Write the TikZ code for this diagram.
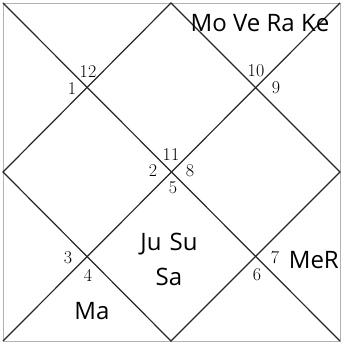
\documentclass[tikz,border=0pt]{standalone}
\usepackage{fontspec}
\newfontfamily\planetfont{Open Sans}
\usetikzlibrary{positioning}

\begin{document}
\begin{tikzpicture}[
    x=1pt, y=-1pt,
    line/.style={draw, line width=1.2pt, black!85},
    frame/.style={draw, line width=0.8pt, gray!60},
    house/.style={font=\fontsize{18}{18}\selectfont, inner sep=0pt},
    planet/.style={font=\planetfont\fontsize{24}{26}\selectfont, inner sep=0pt, align=center}
]
    \useasboundingbox (0,0) rectangle (341,344);
    % corners and midpoints of the chart
    \coordinate (tl) at (3,3);
    \coordinate (tr) at (340,3);
    \coordinate (bl) at (3,341);
    \coordinate (br) at (340,341);
    \coordinate (t) at (171,3);
    \coordinate (l) at (3,172);
    \coordinate (r) at (340,172);
    \coordinate (b) at (171,341);

    \draw[frame] (tl) rectangle (br);
    \draw[line] (tl) -- (br);
    \draw[line] (tr) -- (bl);
    \draw[line] (t) -- (l) -- (b) -- (r) -- cycle;

    % house numbers
    \node[house] (h12) at (88,72) {12};
    \node[house] (h1) at (72,89) {1};
    \node[house] (h10) at (256,71) {10};
    \node[house] (h9) at (276,88) {9};
    \node[house] (h11) at (171,155) {11};
    \node[house] (h2) at (153,171) {2};
    \node[house] (h8) at (190,171) {8};
    \node[house] (h5) at (173,188) {5};
    \node[house] (h3) at (68,258) {3};
    \node[house] (h4) at (88,275) {4};
    \node[house] (h7) at (275,258) {7};
    \node[house] (h6) at (257,275) {6};

    % planets
    \node[planet] (top) at (260,23) {Mo Ve Ra Ke};
    \node[planet] (mid) at (169,244) {Ju\,\,Su};
    \node[planet, below=13pt of mid.south] (sat) {Sa};
    \node[planet] (mars) at (92,311) {Ma};
    \node[planet, anchor=east] (merc) at (339,260) {MeR};
\end{tikzpicture}
\end{document}
